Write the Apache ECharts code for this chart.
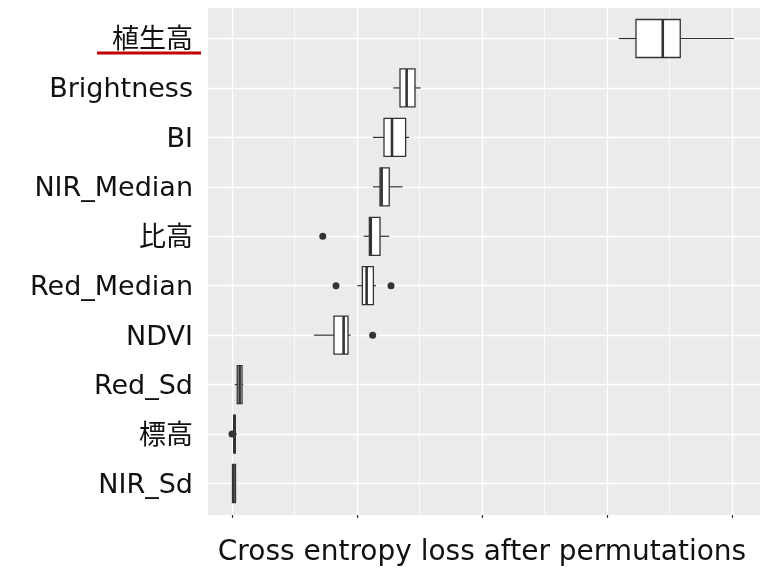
<!DOCTYPE html>
<html><head><meta charset="utf-8">
<script src="https://cdn.jsdelivr.net/npm/echarts@6/dist/echarts.min.js"></script>
<style>html,body{margin:0;padding:0;background:#fff}#c{width:761px;height:569px}</style>
</head><body><div id="c"></div>
<script>
// Categories, top to bottom
const categories = ['植生高','Brightness','BI','NIR_Median','比高','Red_Median','NDVI','Red_Sd','標高','NIR_Sd'];
// [lower whisker, Q1, median, Q3, upper whisker] (axis units: one major grid step = 1)
const boxValues = [
  [3.094, 3.232, 3.446, 3.586, 4.016],
  [1.290, 1.344, 1.397, 1.464, 1.509],
  [1.128, 1.216, 1.280, 1.389, 1.418],
  [1.128, 1.184, 1.197, 1.258, 1.365],
  [1.053, 1.099, 1.110, 1.184, 1.258],
  [1.003, 1.043, 1.077, 1.131, 1.152],
  [0.656, 0.816, 0.893, 0.928, 0.950],
  [0.022, 0.042, 0.061, 0.080, 0.090],
  [0.010, 0.014, 0.019, 0.026, 0.040],
  [0.003, 0.004, 0.012, 0.028, 0.029]
];
// outliers: [value, category index]
const outliers = [
  [0.726, 4],
  [0.832, 5],
  [1.272, 5],
  [1.125, 6],
  [0.000, 8]
];
const xTitle = 'Cross entropy loss after permutations';

const boxData = boxValues.map((b, i) => b.concat([i]));
const FONT = '"DejaVu Sans", "Noto Sans CJK JP", sans-serif';

const chart = echarts.init(document.getElementById('c'), null, {renderer: 'canvas'});
chart.setOption({
  animation: false,
  backgroundColor: '#ffffff',
  grid: [
    {left: 208, right: 1, top: 8, bottom: 54, show: true, backgroundColor: '#EBEBEB', borderWidth: 0},
    {left: 232, right: 29, top: 8, bottom: 54},
    {left: 208, right: 1, top: 38.5, bottom: 85.5}
  ],
  xAxis: [
    {gridIndex: 0, type: 'value', show: false, min: 0, max: 1},
    {gridIndex: 1, type: 'value', min: 0, max: 4, interval: 1,
     axisLine: {show: false},
     axisTick: {show: true, length: 3, lineStyle: {color: '#333', width: 1.2}},
     axisLabel: {show: false},
     splitLine: {show: true, lineStyle: {color: '#ffffff', width: 1.4}},
     minorTick: {show: false, splitNumber: 2},
     minorSplitLine: {show: true, lineStyle: {color: '#ffffff', width: 0.7}}
    },
    {gridIndex: 2, type: 'value', show: false, min: -0.192, max: 4.224}
  ],
  yAxis: [
    {gridIndex: 0, type: 'value', show: false},
    {gridIndex: 1, type: 'value', show: false},
    {gridIndex: 2, type: 'category', data: categories, inverse: true, boundaryGap: false,
     axisLine: {show: false},
     axisTick: {show: false},
     axisLabel: {fontSize: 27, color: '#111', margin: 15, fontFamily: FONT,
                 verticalAlign: 'top', lineHeight: 5},
     splitLine: {show: true, lineStyle: {color: '#ffffff', width: 1.4}}
    }
  ],
  series: [
    {type: 'custom', xAxisIndex: 2, yAxisIndex: 2, data: boxData, z: 3,
     encode: {x: [0, 1, 2, 3, 4], y: 5},
     renderItem: function (params, api) {
       const idx = api.value(5);
       const pLo = api.coord([api.value(0), idx]);
       const pQ1 = api.coord([api.value(1), idx]);
       const pMd = api.coord([api.value(2), idx]);
       const pQ3 = api.coord([api.value(3), idx]);
       const pHi = api.coord([api.value(4), idx]);
       const h = 19;
       const y = pMd[1];
       const st = {stroke: '#333333', lineWidth: 1.2, fill: null};
       return {type: 'group', children: [
         {type: 'line', shape: {x1: pLo[0], y1: y, x2: pQ1[0], y2: y}, style: st},
         {type: 'line', shape: {x1: pQ3[0], y1: y, x2: pHi[0], y2: y}, style: st},
         {type: 'rect', shape: {x: pQ1[0], y: y - h, width: pQ3[0] - pQ1[0], height: 2 * h},
          style: {fill: '#ffffff', stroke: '#333333', lineWidth: 1.3}},
         {type: 'line', shape: {x1: pMd[0], y1: y - h, x2: pMd[0], y2: y + h},
          style: {stroke: '#333333', lineWidth: 2.6}}
       ]};
     }},
    {type: 'scatter', xAxisIndex: 2, yAxisIndex: 2, data: outliers, symbolSize: 7,
     itemStyle: {color: '#333333', opacity: 1}, z: 4}
  ],
  graphic: [
    {type: 'line', shape: {x1: 97, y1: 53, x2: 201, y2: 53}, style: {stroke: '#C00000', lineWidth: 3}, z: 10},
    {type: 'text', x: 482, y: 553, z: 10,
     style: {text: xTitle, fontSize: 28, fill: '#111', fontFamily: FONT, align: 'center', verticalAlign: 'middle'}}
  ]
});
</script></body></html>
